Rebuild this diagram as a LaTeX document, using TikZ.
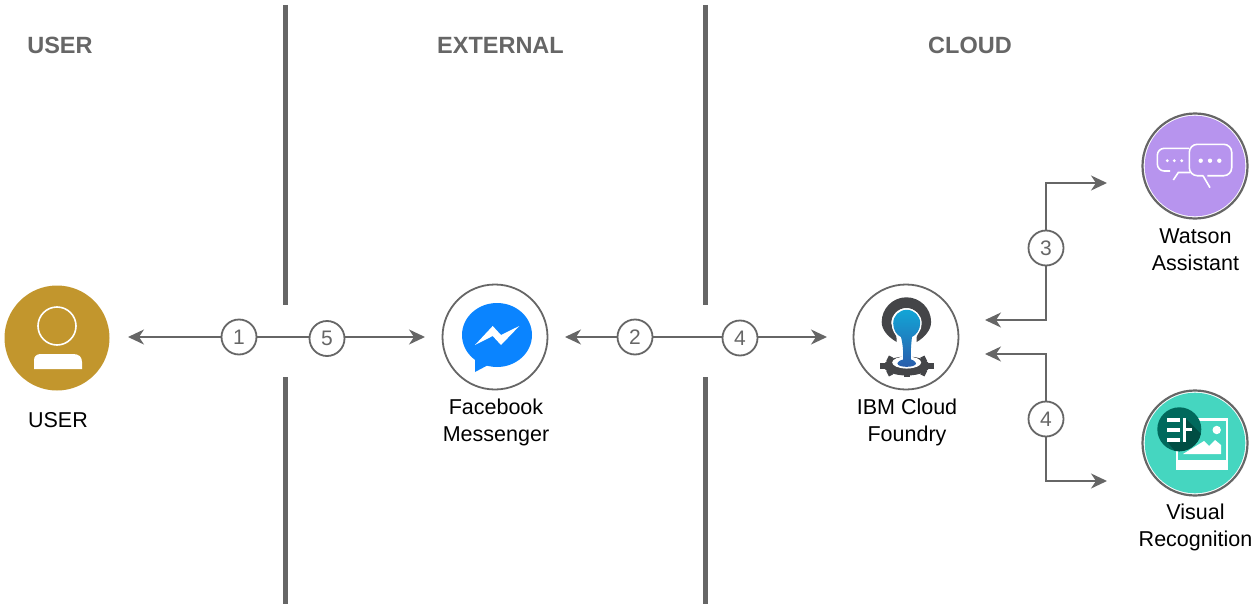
\documentclass[tikz,border=0pt]{standalone}
\usepackage{fontspec}
\setmainfont{Liberation Sans}
\usetikzlibrary{arrows.meta}
\definecolor{linegray}{HTML}{666666}
\definecolor{usergold}{HTML}{C2962D}
\definecolor{fbblue}{HTML}{0A84FF}
\definecolor{wapurple}{HTML}{B794EE}
\definecolor{vrteal}{HTML}{45D6C0}
\definecolor{vrdark}{HTML}{00695C}
\definecolor{vrdeep}{HTML}{004D43}
\definecolor{cfgray}{HTML}{444548}
\definecolor{cftop}{HTML}{12A5D6}
\definecolor{cfbottom}{HTML}{2A5CAB}
\newcommand{\droppath}{(901,337) .. controls (896.5,335) and (893.2,330) .. (893.2,323.3)
      arc (180:360:13.5)
      .. controls (920.2,330) and (916,335) .. (912,337)
      .. controls (911,345) and (910.5,353) .. (911,359.5)
      .. controls (915,360.5) and (916,363.3) .. (916,363.3)
      .. controls (916,368) and (897.4,368) .. (897.4,363.3)
      .. controls (897.4,363.3) and (898.5,360.5) .. (903,359.5)
      .. controls (903.5,353) and (903,345) .. (901,337) -- cycle}
\tikzset{
  x=1pt, y=-1pt,
  heading/.style={text=linegray, font=\fontsize{23.5}{24}\selectfont\bfseries, inner sep=0pt},
  caption/.style={align=center, font=\fontsize{21.5}{27}\selectfont, inner sep=0pt},
  sepline/.style={linegray, line width=5pt},
  icon/.style={circle, minimum size=105pt, inner sep=0pt, draw=linegray, line width=1.8pt, fill=white},
  badge/.style={circle, minimum size=35pt, inner sep=0pt, draw=linegray, line width=1.8pt, fill=white, text=linegray, font=\fontsize{21}{21}\selectfont},
  conn/.style={linegray, line width=2pt, -{Stealth[length=16pt,width=15pt,inset=5pt]}},
  plain/.style={linegray, line width=2pt}
}
\begin{document}
\begin{tikzpicture}
  \useasboundingbox (0,0) rectangle (1258,610);

  \node[heading] (h1) at (60,45) {USER};
  \node[heading] (h2) at (500.5,45) {EXTERNAL};
  \node[heading] (h3) at (970,45) {CLOUD};

  \draw[sepline] (285,5) -- (285,305);
  \draw[sepline] (285,377) -- (285,604);
  \draw[sepline] (705,5) -- (705,305);
  \draw[sepline] (705,377) -- (705,604);

  \node[icon, draw=none, fill=usergold] (user) at (57,338) {};
  \node[icon] (fb) at (495,337) {};
  \node[icon] (cf) at (906,337) {};
  \node[icon, line width=2.2pt] (wa) at (1195,166) {};
  \node[icon, line width=2.2pt] (vr) at (1195,443) {};
  \fill[wapurple] (wa) circle (50.3);
  \fill[vrteal] (vr) circle (50.3);

  \node[caption] (userlabel) at (58,420) {USER};
  \node[caption] (fblabel) at (496,422.5) {Facebook\\Messenger};
  \node[caption] (cflabel) at (907,422.5) {IBM Cloud\\Foundry};
  \node[caption] (walabel) at (1195.5,250) {Watson\\Assistant};
  \node[caption] (vrlabel) at (1195.5,527.5) {Visual\\Recognition};

  \node[badge] (n1) at (239,337) {1};
  \node[badge] (n5) at (327,338.5) {5};
  \node[badge] (n2) at (635,337) {2};
  \node[badge] (n4) at (740,338) {4};
  \node[badge] (n3) at (1046,248) {3};
  \node[badge] (n6) at (1046,419) {4};

  \coordinate (userend) at (128,337);
  \coordinate (fbin) at (425,337);
  \coordinate (fbout) at (565,337);
  \coordinate (cfin) at (827,337);
  \coordinate (cfup) at (985,320);
  \coordinate (cfdown) at (985,354);
  \coordinate (wain) at (1107,183);
  \coordinate (vrin) at (1107,481);

  \draw[conn] (n1) -- (userend);
  \draw[plain] (n1.east) -- (n1.east -| n5.west);
  \draw[conn] (fbin -| n5.east) -- (fbin);
  \draw[conn] (n2) -- (fbout);
  \draw[plain] (n2.east) -- (n2.east -| n4.west);
  \draw[conn] (cfin -| n4.east) -- (cfin);
  \draw[conn] (n3) |- (wain);
  \draw[conn] (n3) |- (cfup);
  \draw[conn] (n6) |- (cfdown);
  \draw[conn] (n6) |- (vrin);

  \begin{scope}
    \draw[white, line width=1.6pt] (57,326) circle (19);
    \fill[white] (34,369) -- (34,360) .. controls (34,356) and (37,354) .. (41,354)
      -- (73,354) .. controls (79,354) and (82,357) .. (82,362) -- (82,369) -- cycle;
  \end{scope}

  \begin{scope}
    \fill[fbblue] (497,335) ellipse (35 and 32);
    \fill[fbblue] (475,352) -- (475,372) -- (490,364) -- cycle;
    \fill[white] (475,345) -- (492.7,326) -- (501,335) -- (519.3,326) -- (501,345) -- (492.7,336) -- cycle;
  \end{scope}

  \begin{scope}
    \fill[cfgray] (896.7,342) .. controls (888,337) and (881.7,330) .. (881.7,322)
      arc (180:360:24.7)
      .. controls (931,330) and (925,337) .. (916.7,342)
      .. controls (915,335) and (921.3,330) .. (921.3,323)
      arc (360:180:15)
      .. controls (891.5,330) and (898,335) .. (896.7,342) -- cycle;
    \fill[cfgray] (906.7,366) ellipse (23 and 9.5);
    \foreach \a in {0,45,...,315}
      \draw[cfgray, line width=6pt] (906.7,366) ++(\a:21 and 8) -- ++(\a:6 and 3);
    \fill[white] (906.7,362.5) ellipse (14.5 and 6);
    \draw[white, line width=3pt] \droppath;
    \shade[top color=cftop, bottom color=cfbottom] \droppath;
  \end{scope}

  \begin{scope}[white, line width=1.6pt]
    \draw[rounded corners=7pt] (1170,171) -- (1157.3,171) -- (1157.3,148.3) -- (1189,148.3);
    \draw (1173.3,180) -- (1178.3,172.5) -- (1190,172.5);
    \draw[rounded corners=8pt] (1203.3,175.7) -- (1189.3,175.7) -- (1189.3,144.3) -- (1231.7,144.3) -- (1231.7,175.7) -- (1207.3,175.7);
    \draw (1203,175.7) -- (1210,187.7);
    \foreach \x in {1167.3,1174.3,1181.7} \fill (\x,160.7) circle (1.6);
    \foreach \x in {1200.7,1210,1219.3} \fill (\x,160.7) circle (2.2);
  \end{scope}

  \begin{scope}
    \fill[white] (1176,418.3) rectangle (1228.3,470);
    \fill[vrteal] (1178.3,420.5) rectangle (1226,460);
    \fill[white] (1183,454) -- (1204,441) -- (1209,446) -- (1215,440) -- (1221,445) -- (1221,454) -- cycle;
    \fill[white] (1216.7,430) circle (4.2);
    \fill[vrdark] (1179.3,429.3) circle (22);
    \begin{scope}
      \clip (1179.3,429.3) circle (22);
      \fill[vrdeep] (1185.3,418.3) -- (1205,438) -- (1205,455) -- (1178,455) -- (1167.3,441.7) -- (1185.3,441.7) -- cycle;
    \end{scope}
    \fill[white] (1167.3,418.3) rectangle (1180,422.3);
    \fill[white] (1167.3,428) rectangle (1180,431.7);
    \fill[white] (1167.3,437.7) rectangle (1180,441.7);
    \fill[white] (1183,418.3) rectangle (1186,441.7);
    \fill[white] (1186,428) rectangle (1191.7,430.6);
  \end{scope}
\end{tikzpicture}
\end{document}
